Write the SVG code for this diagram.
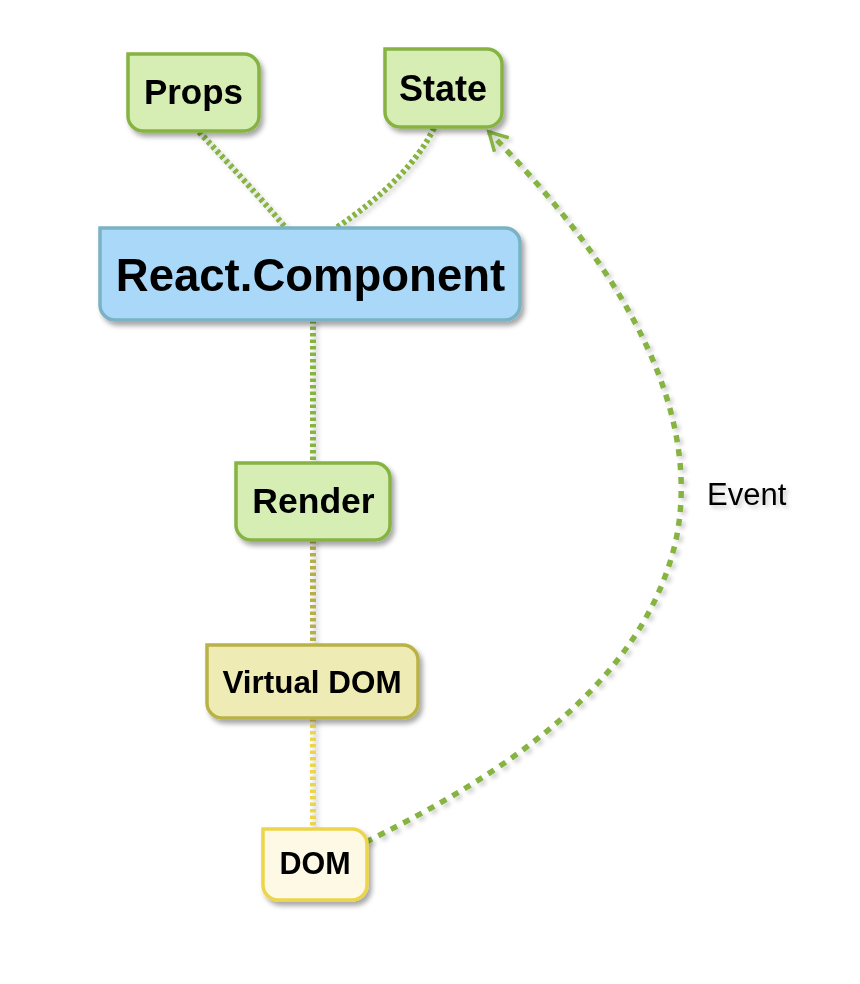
<svg xmlns="http://www.w3.org/2000/svg" width="860" height="984" viewBox="0 0 860 984">
<defs>
<filter id="sh" x="-20%" y="-20%" width="140%" height="140%">
<feDropShadow dx="3" dy="4" stdDeviation="2.5" flood-color="#000" flood-opacity="0.35"/>
</filter>
<filter id="lsh" x="-20%" y="-20%" width="140%" height="140%">
<feDropShadow dx="3" dy="3" stdDeviation="2" flood-color="#000" flood-opacity="0.2"/>
</filter>
<marker id="arr" viewBox="0 0 24 24" refX="21" refY="12" markerWidth="24" markerHeight="24" markerUnits="userSpaceOnUse" orient="auto" overflow="visible">
<path d="M3,2 L21,12 L3,22" fill="none" stroke="#86b342" stroke-width="3.5"/>
</marker>
</defs>
<style>
.green{fill:#d6edb4;stroke:#86b342;stroke-width:3.5}
.blue{fill:#a9d8f9;stroke:#78b2c4;stroke-width:3.5}
.olive{fill:#efebb4;stroke:#b9b347;stroke-width:3.5}
.yellow{fill:#fdf9e4;stroke:#ecd54b;stroke-width:3.5}
.lbl{font-family:"Liberation Sans",Arial,sans-serif;font-weight:bold;fill:#000;text-anchor:middle}
.conn{fill:none;stroke-width:6;stroke-dasharray:3.5 3}
.ev{font-family:"Liberation Sans",Arial,sans-serif;fill:#000}
</style>
<g id="connectors" filter="url(#lsh)">
<path class="conn" stroke="#86b342" d="M199,132 Q243,178 286,228"/>
<path class="conn" stroke="#86b342" d="M434,128 Q410,178 336,228"/>
<path class="conn" stroke="#86b342" d="M313,320 V463"/>
<path class="conn" stroke="#b5ae48" d="M313,540 V645"/>
<path class="conn" stroke="#ecd54b" d="M313,718 V829"/>
<path fill="none" stroke="#86b342" stroke-width="5.5" stroke-dasharray="7 7" d="M366,842 C470,790 640,700 676,540 C702,415 630,275 489,132" marker-end="url(#arr)"/>
<text class="ev" x="707" y="505" font-size="31">Event</text>
</g>
<g id="props" filter="url(#sh)">
<path class="green" d="M128,54 H244 A15,15 0 0 1 259,69 V116 A15,15 0 0 1 244,131 H143 A15,15 0 0 1 128,116 Z"/>
<text class="lbl" x="193.5" y="104" font-size="35">Props</text>
</g>
<g id="state" filter="url(#sh)">
<path class="green" d="M385,49 H487 A15,15 0 0 1 502,64 V112 A15,15 0 0 1 487,127 H400 A15,15 0 0 1 385,112 Z"/>
<text class="lbl" x="443" y="101" font-size="36">State</text>
</g>
<g id="react-component" filter="url(#sh)">
<path class="blue" d="M100,228 H505 A15,15 0 0 1 520,243 V305 A15,15 0 0 1 505,320 H115 A15,15 0 0 1 100,305 Z"/>
<text class="lbl" x="310.5" y="291" font-size="45.5">React.Component</text>
</g>
<g id="render" filter="url(#sh)">
<path class="green" d="M236,463 H375 A15,15 0 0 1 390,478 V525 A15,15 0 0 1 375,540 H251 A15,15 0 0 1 236,525 Z"/>
<text class="lbl" x="313.5" y="513" font-size="35.5">Render</text>
</g>
<g id="virtual-dom" filter="url(#sh)">
<path class="olive" d="M207,645 H403 A15,15 0 0 1 418,660 V703 A15,15 0 0 1 403,718 H222 A15,15 0 0 1 207,703 Z"/>
<text class="lbl" x="312" y="693" font-size="31.4">Virtual DOM</text>
</g>
<g id="dom" filter="url(#sh)">
<path class="yellow" d="M263,829 H352 A15,15 0 0 1 367,844 V885 A15,15 0 0 1 352,900 H278 A15,15 0 0 1 263,885 Z"/>
<text class="lbl" x="315" y="874" font-size="30.5">DOM</text>
</g>
</svg>
